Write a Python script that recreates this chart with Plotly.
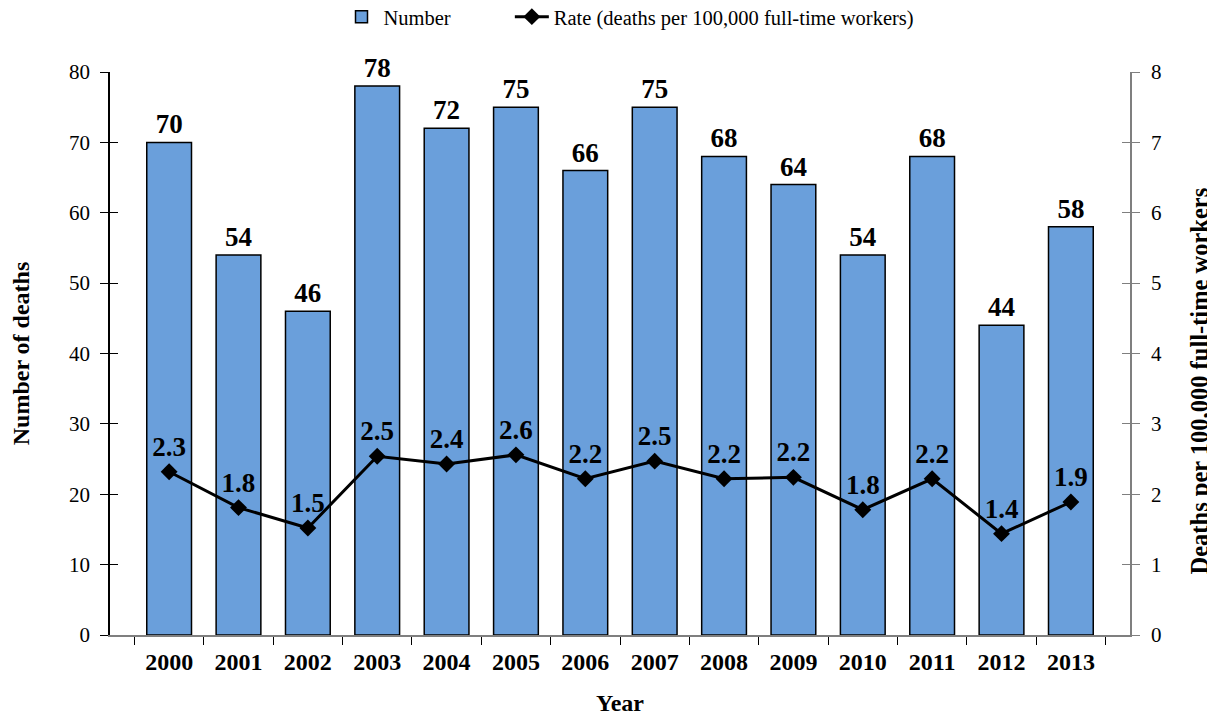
import plotly.graph_objects as go

years = ["2000", "2001", "2002", "2003", "2004", "2005", "2006", "2007",
         "2008", "2009", "2010", "2011", "2012", "2013"]
deaths = [70, 54, 46, 78, 72, 75, 66, 75, 68, 64, 54, 68, 44, 58]
rates = [2.32, 1.81, 1.52, 2.54, 2.43, 2.56, 2.22, 2.47, 2.22, 2.24, 1.78, 2.22, 1.44, 1.89]

FONT = "Liberation Serif"

fig = go.Figure()
fig.add_trace(go.Bar(
    x=years, y=deaths, name="Number", legend="legend",
    marker=dict(color="#6A9FDB", line=dict(color="black", width=1.5)),
    text=[str(v) for v in deaths], textposition="outside",
    textfont=dict(family=FONT, size=27, color="black", weight="bold"),
    cliponaxis=False,
))
fig.add_trace(go.Scatter(
    x=years, y=rates, name="Rate (deaths per 100,000 full-time workers)",
    legend="legend2",
    yaxis="y2", mode="lines+markers+text",
    line=dict(color="black", width=3),
    marker=dict(symbol="diamond", size=13, color="black"),
    texttemplate="%{y:.1f}", textposition="top center",
    textfont=dict(family=FONT, size=27, color="black", weight="bold"),
    cliponaxis=False,
))
# invisible traces to host the inside-tick axes (cross ticks)
fig.add_trace(go.Scatter(x=[years[0]], y=[0], yaxis="y3", mode="markers",
                         marker=dict(opacity=0), showlegend=False, hoverinfo="skip"))
fig.add_trace(go.Scatter(x=[years[0]], y=[0], yaxis="y4", mode="markers",
                         marker=dict(opacity=0), showlegend=False, hoverinfo="skip"))

legend_common = dict(orientation="h", y=1.098, yanchor="middle", xanchor="left",
                     font=dict(family=FONT, size=20.5), itemwidth=34,
                     bgcolor="rgba(0,0,0,0)")

fig.update_layout(
    width=1207, height=708,
    margin=dict(l=102, r=85, t=64, b=81, autoexpand=False),
    paper_bgcolor="white", plot_bgcolor="white",
    font=dict(family=FONT, size=20, color="black"),
    bargap=0.355,
    showlegend=True,
    legend=dict(x=0.225, **legend_common),
    legend2=dict(x=0.392, **legend_common),
    xaxis=dict(
        type="category", showline=True, linecolor="#7f7f7f", linewidth=1.5,
        ticks="outside", tickson="boundaries", ticklen=8, tickcolor="black",
        tickwidth=1, automargin=False, ticklabelstandoff=4,
        tickfont=dict(family=FONT, size=24, weight="bold"),
        title=dict(text="<b>Year</b>", font=dict(family=FONT, size=24), standoff=24),
        showgrid=False, zeroline=False,
    ),
    yaxis=dict(
        range=[0, 80], dtick=10, showline=True, linecolor="black", linewidth=1.5,
        ticks="outside", ticklen=8, tickcolor="black", automargin=False,
        ticklabelstandoff=6,
        tickfont=dict(family=FONT, size=21),
        title=dict(text="<b>Number of deaths</b>", font=dict(family=FONT, size=24), standoff=39),
        showgrid=False, zeroline=False,
    ),
    yaxis2=dict(
        range=[0, 8], dtick=1, overlaying="y", side="right",
        showline=True, linecolor="#7f7f7f", linewidth=1.5, automargin=False,
        ticks="outside", ticklen=8, tickcolor="#7f7f7f", ticklabelstandoff=7,
        tickfont=dict(family=FONT, size=21),
        showgrid=False, zeroline=False,
    ),
    yaxis3=dict(
        range=[0, 80], dtick=10, overlaying="y", side="left", automargin=False,
        ticks="inside", ticklen=8, tickcolor="black", showticklabels=False,
        showline=False, showgrid=False, zeroline=False,
    ),
    yaxis4=dict(
        range=[0, 8], dtick=1, overlaying="y", side="right", automargin=False,
        ticks="inside", ticklen=8, tickcolor="#7f7f7f", showticklabels=False,
        showline=False, showgrid=False, zeroline=False,
    ),
    annotations=[dict(
        text="<b>Deaths per 100,000 full-time workers</b>",
        xref="paper", yref="paper", x=1.068, y=0.451,
        xanchor="center", yanchor="middle", textangle=-90, showarrow=False,
        font=dict(family=FONT, size=24.5, color="black"),
    )],
)

fig.write_html("out.html")
